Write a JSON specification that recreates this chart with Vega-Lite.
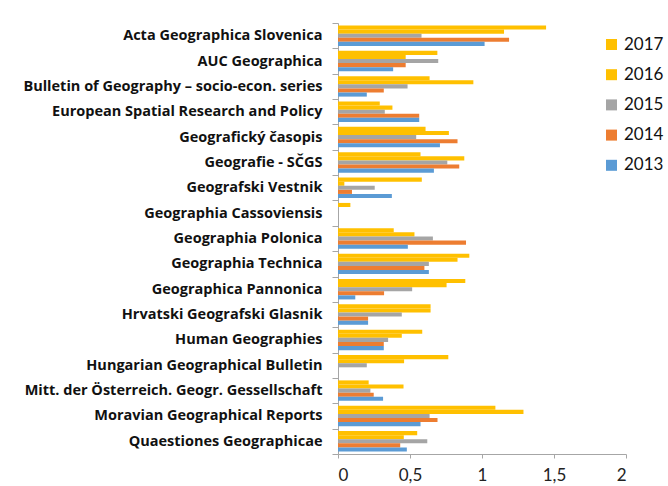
{
  "$schema": "https://vega.github.io/schema/vega-lite/v6.json",
  "autosize": "none",
  "width": 288,
  "height": 431,
  "padding": {"left": 338, "top": 23, "right": 42, "bottom": 32},
  "background": "white",
  "data": {"values": [
    {"journal": "Acta Geographica Slovenica", "year": "2017", "value": 1.445},
    {"journal": "Acta Geographica Slovenica", "year": "2016", "value": 1.153},
    {"journal": "Acta Geographica Slovenica", "year": "2015", "value": 0.58},
    {"journal": "Acta Geographica Slovenica", "year": "2014", "value": 1.188},
    {"journal": "Acta Geographica Slovenica", "year": "2013", "value": 1.018},
    {"journal": "AUC Geographica", "year": "2017", "value": 0.69},
    {"journal": "AUC Geographica", "year": "2016", "value": 0.47},
    {"journal": "AUC Geographica", "year": "2015", "value": 0.696},
    {"journal": "AUC Geographica", "year": "2014", "value": 0.47},
    {"journal": "AUC Geographica", "year": "2013", "value": 0.383},
    {"journal": "Bulletin of Geography – socio-econ. series", "year": "2017", "value": 0.636},
    {"journal": "Bulletin of Geography – socio-econ. series", "year": "2016", "value": 0.94},
    {"journal": "Bulletin of Geography – socio-econ. series", "year": "2015", "value": 0.483},
    {"journal": "Bulletin of Geography – socio-econ. series", "year": "2014", "value": 0.318},
    {"journal": "Bulletin of Geography – socio-econ. series", "year": "2013", "value": 0.2},
    {"journal": "European Spatial Research and Policy", "year": "2017", "value": 0.29},
    {"journal": "European Spatial Research and Policy", "year": "2016", "value": 0.378},
    {"journal": "European Spatial Research and Policy", "year": "2015", "value": 0.325},
    {"journal": "European Spatial Research and Policy", "year": "2014", "value": 0.564},
    {"journal": "European Spatial Research and Policy", "year": "2013", "value": 0.564},
    {"journal": "Geografický časopis", "year": "2017", "value": 0.608},
    {"journal": "Geografický časopis", "year": "2016", "value": 0.77},
    {"journal": "Geografický časopis", "year": "2015", "value": 0.543},
    {"journal": "Geografický časopis", "year": "2014", "value": 0.83},
    {"journal": "Geografický časopis", "year": "2013", "value": 0.708},
    {"journal": "Geografie - SČGS", "year": "2017", "value": 0.573},
    {"journal": "Geografie - SČGS", "year": "2016", "value": 0.877},
    {"journal": "Geografie - SČGS", "year": "2015", "value": 0.759},
    {"journal": "Geografie - SČGS", "year": "2014", "value": 0.842},
    {"journal": "Geografie - SČGS", "year": "2013", "value": 0.666},
    {"journal": "Geografski Vestnik", "year": "2017", "value": 0.582},
    {"journal": "Geografski Vestnik", "year": "2016", "value": 0.044},
    {"journal": "Geografski Vestnik", "year": "2015", "value": 0.255},
    {"journal": "Geografski Vestnik", "year": "2014", "value": 0.097},
    {"journal": "Geografski Vestnik", "year": "2013", "value": 0.374},
    {"journal": "Geographia Cassoviensis", "year": "2017", "value": 0.086},
    {"journal": "Geographia Polonica", "year": "2017", "value": 0.387},
    {"journal": "Geographia Polonica", "year": "2016", "value": 0.531},
    {"journal": "Geographia Polonica", "year": "2015", "value": 0.659},
    {"journal": "Geographia Polonica", "year": "2014", "value": 0.889},
    {"journal": "Geographia Polonica", "year": "2013", "value": 0.485},
    {"journal": "Geographia Technica", "year": "2017", "value": 0.912},
    {"journal": "Geographia Technica", "year": "2016", "value": 0.83},
    {"journal": "Geographia Technica", "year": "2015", "value": 0.631},
    {"journal": "Geographia Technica", "year": "2014", "value": 0.6},
    {"journal": "Geographia Technica", "year": "2013", "value": 0.631},
    {"journal": "Geographica Pannonica", "year": "2017", "value": 0.884},
    {"journal": "Geographica Pannonica", "year": "2016", "value": 0.754},
    {"journal": "Geographica Pannonica", "year": "2015", "value": 0.515},
    {"journal": "Geographica Pannonica", "year": "2014", "value": 0.32},
    {"journal": "Geographica Pannonica", "year": "2013", "value": 0.12},
    {"journal": "Hrvatski Geografski Glasnik", "year": "2017", "value": 0.643},
    {"journal": "Hrvatski Geografski Glasnik", "year": "2016", "value": 0.643},
    {"journal": "Hrvatski Geografski Glasnik", "year": "2015", "value": 0.443},
    {"journal": "Hrvatski Geografski Glasnik", "year": "2014", "value": 0.209},
    {"journal": "Hrvatski Geografski Glasnik", "year": "2013", "value": 0.209},
    {"journal": "Human Geographies", "year": "2017", "value": 0.585},
    {"journal": "Human Geographies", "year": "2016", "value": 0.443},
    {"journal": "Human Geographies", "year": "2015", "value": 0.348},
    {"journal": "Human Geographies", "year": "2014", "value": 0.318},
    {"journal": "Human Geographies", "year": "2013", "value": 0.318},
    {"journal": "Hungarian Geographical Bulletin", "year": "2017", "value": 0.766},
    {"journal": "Hungarian Geographical Bulletin", "year": "2016", "value": 0.459},
    {"journal": "Hungarian Geographical Bulletin", "year": "2015", "value": 0.2},
    {"journal": "Mitt. der Österreich. Geogr. Gessellschaft", "year": "2017", "value": 0.213},
    {"journal": "Mitt. der Österreich. Geogr. Gessellschaft", "year": "2016", "value": 0.455},
    {"journal": "Mitt. der Österreich. Geogr. Gessellschaft", "year": "2015", "value": 0.225},
    {"journal": "Mitt. der Österreich. Geogr. Gessellschaft", "year": "2014", "value": 0.248},
    {"journal": "Mitt. der Österreich. Geogr. Gessellschaft", "year": "2013", "value": 0.313},
    {"journal": "Moravian Geographical Reports", "year": "2017", "value": 1.093},
    {"journal": "Moravian Geographical Reports", "year": "2016", "value": 1.288},
    {"journal": "Moravian Geographical Reports", "year": "2015", "value": 0.636},
    {"journal": "Moravian Geographical Reports", "year": "2014", "value": 0.691},
    {"journal": "Moravian Geographical Reports", "year": "2013", "value": 0.573},
    {"journal": "Quaestiones Geographicae", "year": "2017", "value": 0.55},
    {"journal": "Quaestiones Geographicae", "year": "2016", "value": 0.457},
    {"journal": "Quaestiones Geographicae", "year": "2015", "value": 0.62},
    {"journal": "Quaestiones Geographicae", "year": "2014", "value": 0.432},
    {"journal": "Quaestiones Geographicae", "year": "2013", "value": 0.478}
  ]},
  "mark": {"type": "bar", "cornerRadius": 0},
  "encoding": {
    "y": {
      "field": "journal", "type": "nominal", "title": null,
      "sort": ["Acta Geographica Slovenica", "AUC Geographica", "Bulletin of Geography – socio-econ. series", "European Spatial Research and Policy", "Geografický časopis", "Geografie - SČGS", "Geografski Vestnik", "Geographia Cassoviensis", "Geographia Polonica", "Geographia Technica", "Geographica Pannonica", "Hrvatski Geografski Glasnik", "Human Geographies", "Hungarian Geographical Bulletin", "Mitt. der Österreich. Geogr. Gessellschaft", "Moravian Geographical Reports", "Quaestiones Geographicae"],
      "scale": {"paddingInner": 0, "paddingOuter": 0},
      "axis": {
        "tickBand": "extent", "tickSize": 6, "tickColor": "#A6A6A6", "domainColor": "#A6A6A6",
        "labelFont": "Open Sans", "labelFontWeight": "bold", "labelFontSize": 14.5, "labelColor": "#111111",
        "labelPadding": 10, "labelLimit": 400
      }
    },
    "yOffset": {
      "field": "year", "type": "nominal",
      "sort": ["2017", "2016", "2015", "2014", "2013"],
      "scale": {"paddingInner": 0, "paddingOuter": 0.6}
    },
    "x": {
      "field": "value", "type": "quantitative", "title": null,
      "scale": {"domain": [0, 2], "nice": false},
      "axis": {
        "values": [0, 0.5, 1, 1.5, 2], "grid": false,
        "labelExpr": "replace(format(datum.value, '~g'), '.', ',')",
        "tickSize": 4, "tickColor": "#A6A6A6", "domainColor": "#A6A6A6",
        "labelFont": "Lato", "labelFontSize": 17, "labelColor": "#222222", "labelPadding": 9
      }
    },
    "color": {
      "field": "year", "type": "nominal",
      "scale": {"domain": ["2017", "2016", "2015", "2014", "2013"], "range": ["#FFC000", "#FFC000", "#A5A5A5", "#ED7D31", "#5B9BD5"]},
      "legend": {
        "title": null, "orient": "none", "legendX": 265, "legendY": 13,
        "symbolType": "square", "symbolSize": 121, "symbolStrokeWidth": 0,
        "labelFont": "Lato", "labelFontSize": 17, "labelColor": "#111111",
        "rowPadding": 12.2, "labelOffset": 4
      }
    }
  },
  "config": {"view": {"stroke": null}}
}
